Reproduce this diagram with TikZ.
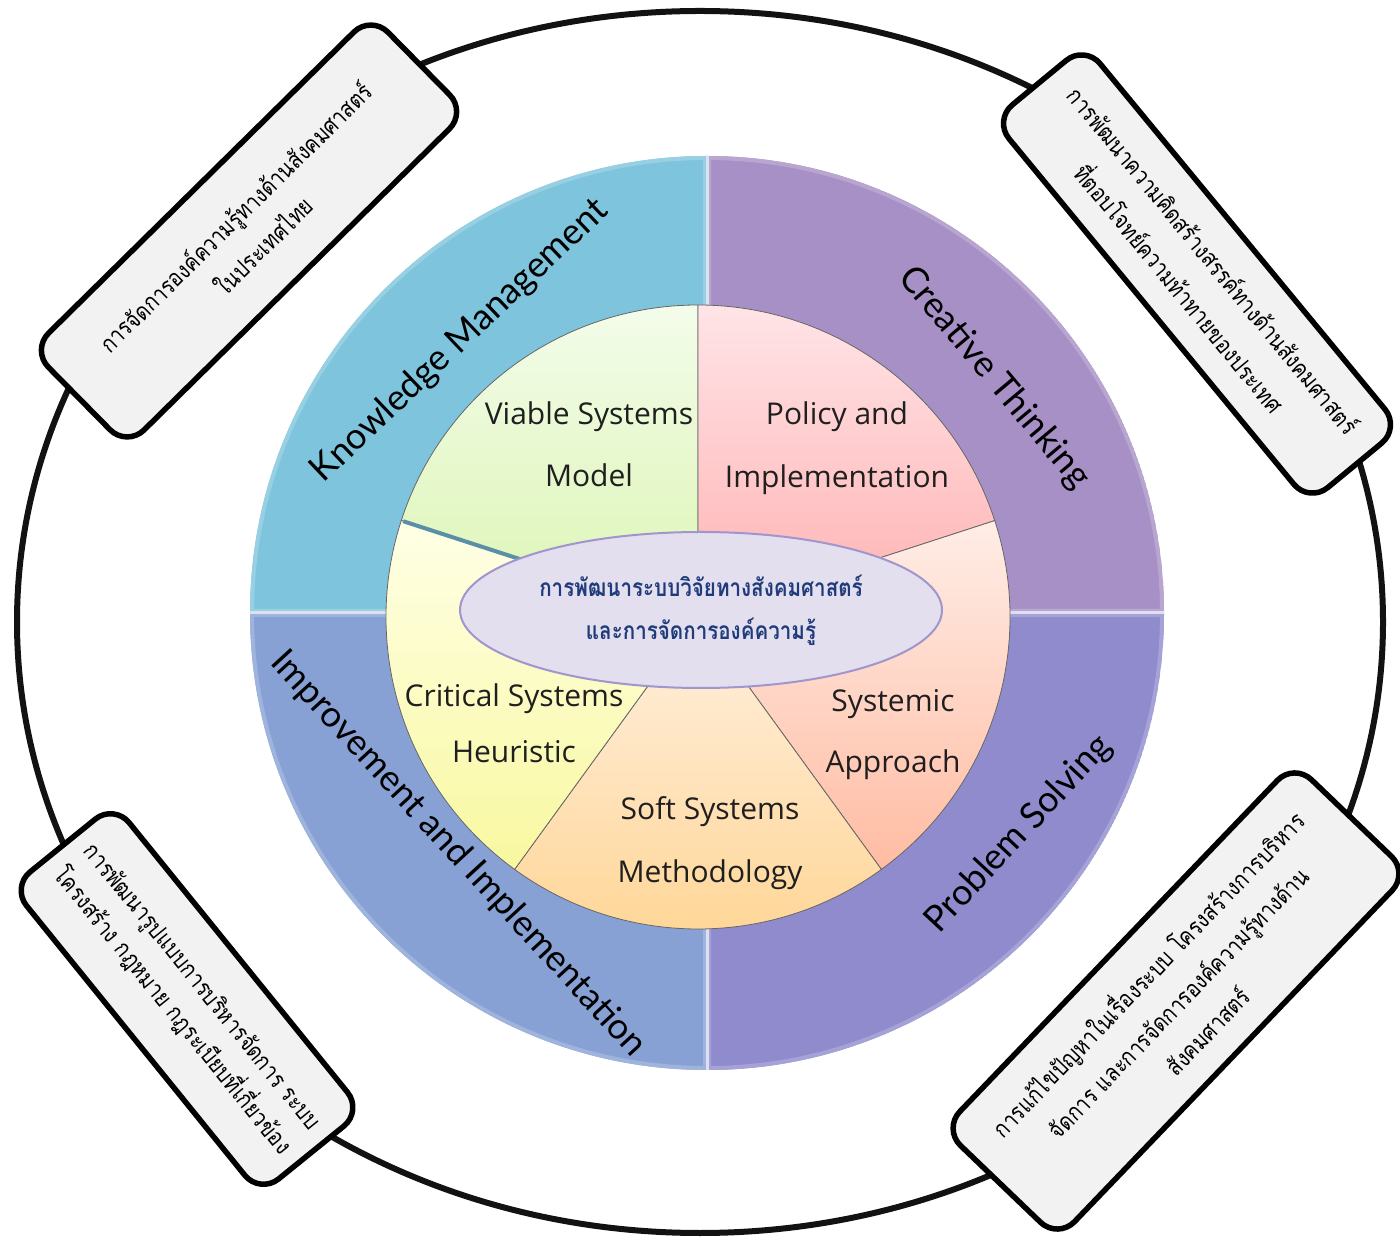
\documentclass[tikz,border=0pt]{standalone}
\usepackage{fontspec}
\setmainfont{Open Sans}
\newfontfamily\quadfont{Lato}
\newfontfamily\thaifont[Script=Thai, FakeStretch=0.84]{Loma}
\usetikzlibrary{shapes.geometric}
\definecolor{qTL}{HTML}{7EC4DC}
\definecolor{qTR}{HTML}{A690C6}
\definecolor{qBL}{HTML}{87A1D5}
\definecolor{qBR}{HTML}{8F8BCD}
\definecolor{vTop}{HTML}{F3FCEA}
\definecolor{vBot}{HTML}{DCF5B3}
\definecolor{pTop}{HTML}{FFE4E7}
\definecolor{pBot}{HTML}{FFB1B1}
\definecolor{sTop}{HTML}{FFEDE6}
\definecolor{sBot}{HTML}{FFBCA3}
\definecolor{oTop}{HTML}{FFF0E0}
\definecolor{oBot}{HTML}{FFD594}
\definecolor{cTop}{HTML}{FFFFE6}
\definecolor{cBot}{HTML}{F8F8A0}
\definecolor{coreFill}{HTML}{E3DFEE}
\definecolor{coreLine}{HTML}{A095CC}
\definecolor{coreText}{HTML}{1F3B7B}
\definecolor{boxgray}{HTML}{F2F2F2}
\definecolor{gapcol}{HTML}{DDE0EE}
\definecolor{seam}{HTML}{5B8FA8}
\tikzset{
  tbox/.style={draw=black, line width=5.5pt, fill=boxgray, rounded corners=24pt,
    inner sep=0pt, align=center},
  slicelbl/.style={anchor=base, inner sep=0pt, font=\fontsize{30}{30}\selectfont, text=black!88},
  quadlbl/.style={inner sep=0pt, font=\quadfont\fontsize{36}{36}\selectfont, text=black},
  slicepath/.style={draw=black!60, line width=0.8pt},
}
\begin{document}
\begin{tikzpicture}[x=1pt,y=1pt]
\useasboundingbox (0,0) rectangle (1400,1240);

% outer ring
\draw[line width=6pt, black!93] (700,618) ellipse [x radius=683, y radius=611];

% quadrant ring
\coordinate (C) at (707,627);
\begin{scope}
  \clip (C) -- ++(180:457) arc[start angle=180,end angle=90,radius=457] -- cycle;
  \fill[qTL] (C) -- ++(180:457) arc[start angle=180,end angle=90,radius=457] -- cycle;
  \draw[line width=8pt, qTL!80!white] (C) -- ++(180:457) arc[start angle=180,end angle=90,radius=457] -- cycle;
\end{scope}
\begin{scope}
  \clip (C) -- ++(90:457) arc[start angle=90,end angle=0,radius=457] -- cycle;
  \fill[qTR] (C) -- ++(90:457) arc[start angle=90,end angle=0,radius=457] -- cycle;
  \draw[line width=8pt, qTR!80!white] (C) -- ++(90:457) arc[start angle=90,end angle=0,radius=457] -- cycle;
\end{scope}
\begin{scope}
  \clip (C) -- ++(180:457) arc[start angle=180,end angle=270,radius=457] -- cycle;
  \fill[qBL] (C) -- ++(180:457) arc[start angle=180,end angle=270,radius=457] -- cycle;
  \draw[line width=8pt, qBL!80!white] (C) -- ++(180:457) arc[start angle=180,end angle=270,radius=457] -- cycle;
\end{scope}
\begin{scope}
  \clip (C) -- ++(270:457) arc[start angle=270,end angle=360,radius=457] -- cycle;
  \fill[qBR] (C) -- ++(270:457) arc[start angle=270,end angle=360,radius=457] -- cycle;
  \draw[line width=8pt, qBR!80!white] (C) -- ++(270:457) arc[start angle=270,end angle=360,radius=457] -- cycle;
\end{scope}
\draw[line width=3pt, gapcol] (C) ++(0,457) -- ++(0,-914);
\draw[line width=3pt, gapcol] (C) ++(-457,0) -- ++(914,0);

% pie
\coordinate (P) at (698,623);
\path[slicepath, top color=vTop, bottom color=vBot] (P) -- ++(90:312) arc[start angle=90,end angle=162,radius=312] -- cycle;
\path[slicepath, top color=pTop, bottom color=pBot] (P) -- ++(18:312) arc[start angle=18,end angle=90,radius=312] -- cycle;
\path[slicepath, top color=sTop, bottom color=sBot] (P) -- ++(-54:312) arc[start angle=-54,end angle=18,radius=312] -- cycle;
\path[slicepath, top color=oTop, bottom color=oBot] (P) -- ++(-126:312) arc[start angle=-126,end angle=-54,radius=312] -- cycle;
\path[slicepath, top color=cTop, bottom color=cBot] (P) -- ++(162:312) arc[start angle=162,end angle=234,radius=312] -- cycle;
\draw[line width=4pt, seam] (P) ++(162:310) -- ++(-18:160);

% core
\draw[draw=coreLine, line width=2pt, fill=coreFill] (701,630) ellipse [x radius=241, y radius=78];
\node[inner sep=0pt, align=center, text=coreText, font=\thaifont\bfseries\fontsize{24.5}{43}\selectfont]
  (core) at (701,630) {การพัฒนาระบบวิจัยทางสังคมศาสตร์\\และการจัดการองค์ความรู้};

% slice labels
\node[slicelbl] (v1) at (589,815) {Viable Systems};
\node[slicelbl] (v2) at (589,753) {Model};
\node[slicelbl] (p1) at (837,815) {Policy and};
\node[slicelbl] (p2) at (837,752) {Implementation};
\node[slicelbl] (s1) at (893,528) {Systemic};
\node[slicelbl] (s2) at (893,467) {Approach};
\node[slicelbl] (o1) at (710,420) {Soft Systems};
\node[slicelbl] (o2) at (710,357) {Methodology};
\node[slicelbl] (c1) at (514,533) {Critical Systems};
\node[slicelbl] (c2) at (514,477) {Heuristic};

% quadrant labels
\node[quadlbl, rotate=43.5] (km) at (460,899) {Knowledge Management};
\node[quadlbl, rotate=-50] (ct) at (994,862) {Creative Thinking};
\node[quadlbl, rotate=-47.4] (ii) at (458,386) {Improvement and Implementation};
\node[quadlbl, rotate=47] (ps) at (1019,406) {Problem Solving};

% boxes
\node[tbox, minimum width=477pt, minimum height=136pt, rotate=44.6,
      font=\thaifont\fontsize{24}{40}\selectfont] (b1) at (249,1009)
  {การจัดการองค์ความรู้ทางด้านสังคมศาสตร์\\ในประเทศไทย};
\node[tbox, minimum width=496pt, minimum height=118pt, rotate=-50.5,
      font=\thaifont\fontsize{24}{44}\selectfont] (b2) at (1197,966)
  {การพัฒนาความคิดสร้างสรรค์ทางด้านสังคมศาสตร์\\ที่ตอบโจทย์ความท้าทายของประเทศ};
\node[tbox, minimum width=395pt, minimum height=132pt, rotate=-51,
      font=\thaifont\fontsize{24}{38}\selectfont] (b3) at (187,241)
  {การพัฒนารูปแบบการบริหารจัดการ ระบบ\\โครงสร้าง กฎหมาย กฎระเบียบที่เกี่ยวข้อง};
\node[tbox, minimum width=507pt, minimum height=159pt, rotate=46.2,
      font=\thaifont\fontsize{24}{41}\selectfont] (b4) at (1176,239)
  {การแก้ไขปัญหาในเรื่องระบบ โครงสร้างการบริหาร\\จัดการ และการจัดการองค์ความรู้ทางด้าน\\สังคมศาสตร์};
\end{tikzpicture}
\end{document}
